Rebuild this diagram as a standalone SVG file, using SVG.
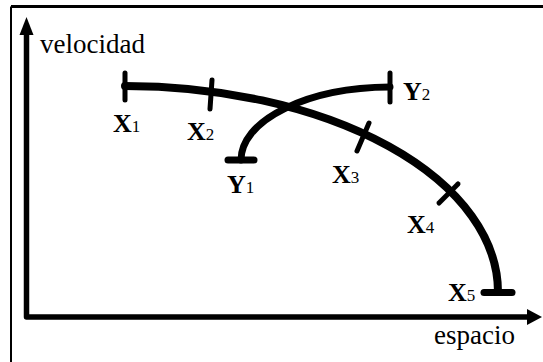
<svg xmlns="http://www.w3.org/2000/svg" width="543" height="362" viewBox="0 0 543 362">
<style>
text{font-family:'Liberation Serif','Times New Roman',serif;fill:#000}
.lbl{font-size:26px}
.b{font-weight:bold}
.s{font-size:17px;font-weight:normal}
.ax{font-size:27px}
.curve{fill:none;stroke:#000;stroke-linecap:round}
.tick{stroke:#000;stroke-width:5;stroke-linecap:round}
</style>
<rect width="543" height="362" fill="#fff"/>
<g id="frame">
<line x1="11" y1="6.5" x2="543" y2="6.5" stroke="#000" stroke-width="3"/>
<line x1="11" y1="6.5" x2="11" y2="362" stroke="#000" stroke-width="2"/>
</g>
<g id="axes">
<path d="M26.5,34 V317 H529" fill="none" stroke="#000" stroke-width="5.5" stroke-linejoin="round"/>
<polygon points="26.5,17 19.5,35 33.5,35" fill="#000"/>
<polygon points="542,317 527,309 527,325" fill="#000"/>
<text class="ax" x="40" y="53">velocidad</text>
<text class="ax" x="434" y="344">espacio</text>
</g>
<g id="connectors">
<path id="curveX" class="curve" stroke-width="8" d="M125,86 A373,206 0 0 1 498,292"/>
<path id="curveY" class="curve" stroke-width="7" d="M241,160 A150,73 0 0 1 390,87"/>
</g>
<g id="X1"><line class="tick" x1="125" y1="73" x2="125" y2="100"/><text class="lbl" x="113" y="132"><tspan class="b">X</tspan><tspan class="s">1</tspan></text></g>
<g id="X2"><line class="tick" x1="212" y1="80" x2="210" y2="109"/><text class="lbl" x="187" y="140"><tspan class="b">X</tspan><tspan class="s">2</tspan></text></g>
<g id="X3"><line class="tick" x1="369" y1="123" x2="357" y2="151"/><text class="lbl" x="332" y="183"><tspan class="b">X</tspan><tspan class="s">3</tspan></text></g>
<g id="X4"><line class="tick" x1="458" y1="184" x2="439" y2="203"/><text class="lbl" x="407" y="233"><tspan class="b">X</tspan><tspan class="s">4</tspan></text></g>
<g id="X5"><line class="tick" x1="484" y1="292.5" x2="512" y2="292.5" style="stroke-width:7"/><text class="lbl" x="448" y="301"><tspan class="b">X</tspan><tspan class="s">5</tspan></text></g>
<g id="Y1"><line class="tick" x1="228" y1="160" x2="254" y2="160" style="stroke-width:7"/><text class="lbl" x="227" y="193"><tspan class="b">Y</tspan><tspan class="s">1</tspan></text></g>
<g id="Y2"><line class="tick" x1="390" y1="73" x2="390" y2="102"/><text class="lbl" x="403" y="100"><tspan class="b">Y</tspan><tspan class="s">2</tspan></text></g>
</svg>
